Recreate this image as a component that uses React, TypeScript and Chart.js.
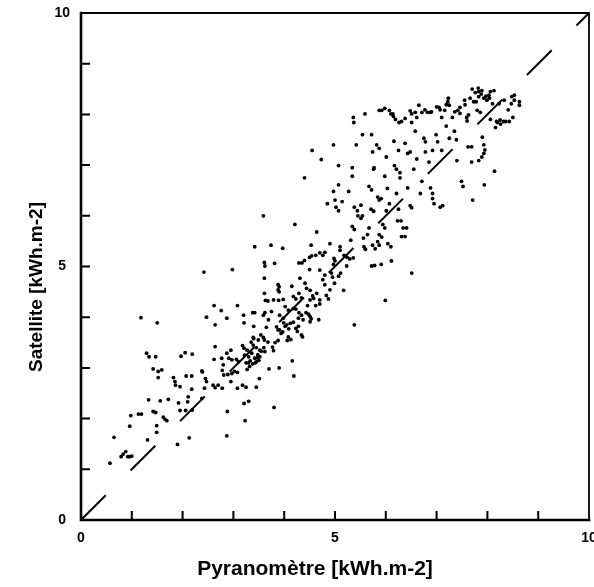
import React, { useEffect, useRef } from "react";
import { Chart, registerables } from "chart.js";

Chart.register(...registerables);

// Scatter values: [pyranometre, satellite] in kWh.m-2
const pointsLow: [number, number][] = [
  [1.18, 3.99], [1.5, 3.89], [1.29, 3.29], [1.34, 3.22], [1.47, 3.22], [1.42, 2.98], [1.52, 2.93], [1.59, 2.96],
  [1.52, 2.81], [1.82, 2.81], [1.85, 2.73], [1.86, 2.66], [1.95, 2.63], [1.97, 3.23], [2.05, 3.3], [2.19, 3.27],
  [2.07, 2.84], [2.18, 2.84], [2.38, 2.94], [2.39, 2.92], [2.45, 2.79], [2.47, 2.73], [2.43, 2.6], [2.18, 2.58],
  [2.11, 2.43], [1.33, 2.37], [1.56, 2.35], [1.72, 2.38], [1.92, 2.31], [2.1, 2.33], [2.38, 2.4], [1.95, 2.16],
  [2.06, 2.16], [2.19, 2.17], [1.42, 2.14], [1.47, 2.12], [1.13, 2.09], [1.19, 2.09], [0.98, 2.06], [1.62, 2.03],
  [1.65, 1.99], [1.69, 1.96], [1.49, 1.86], [0.96, 1.85], [1.49, 1.73], [0.65, 1.63], [1.31, 1.58], [2.13, 1.62],
  [1.9, 1.49], [0.79, 1.25], [0.83, 1.3], [0.88, 1.35], [0.92, 1.25], [0.96, 1.25], [1.0, 1.26], [0.57, 1.12],
  [2.87, 1.66], [2.47, 4.0], [2.62, 4.23], [2.76, 4.13], [2.87, 3.98], [2.64, 3.85], [3.08, 4.23], [2.64, 3.42],
  [2.62, 3.17], [2.77, 3.19], [2.8, 3.06], [2.78, 2.95], [2.81, 2.86], [2.87, 3.29], [2.95, 3.35], [2.91, 3.19],
  [2.97, 3.16], [2.89, 2.87], [2.97, 2.89], [3.02, 2.93], [3.08, 2.91], [2.95, 2.73], [2.6, 2.66], [2.64, 2.61],
  [2.7, 2.66], [2.78, 2.6], [2.88, 2.14], [3.08, 2.6], [3.06, 3.17], [3.1, 3.12], [2.42, 4.89], [2.98, 4.94],
];

const pointsMid: [number, number][] = [
  [3.18, 2.66], [3.25, 2.62], [3.18, 3.44], [3.21, 3.39], [3.2, 4.04], [3.21, 3.89], [3.21, 2.3], [3.3, 2.34],
  [3.23, 1.96], [3.25, 3.1], [3.3, 3.1], [3.27, 2.97], [3.32, 3.03], [3.38, 4.09], [3.42, 4.09], [3.4, 3.82],
  [3.35, 3.51], [3.4, 3.58], [3.42, 5.39], [3.43, 3.1], [3.47, 3.2], [3.5, 3.15], [3.52, 3.22], [3.45, 2.62],
  [3.51, 2.79], [3.54, 3.65], [3.59, 6.0], [3.61, 5.08], [3.62, 5.01], [3.61, 4.77], [3.61, 4.47], [3.63, 4.33],
  [3.68, 4.32], [3.62, 4.09], [3.69, 3.95], [3.65, 3.8], [3.61, 3.55], [3.68, 3.51], [3.62, 3.32], [3.7, 2.98],
  [3.74, 5.42], [3.77, 3.41], [3.79, 3.34], [3.8, 2.22], [3.81, 5.06], [3.82, 3.5], [3.88, 3.54], [3.9, 4.6],
  [3.9, 4.5], [3.89, 4.33], [3.88, 3.75], [3.94, 3.68], [3.9, 3.0], [3.97, 5.36], [3.99, 3.89], [4.02, 4.21],
  [4.02, 3.82], [4.09, 3.77], [4.06, 3.54], [4.13, 3.56], [4.16, 3.14], [4.19, 2.84], [4.21, 5.83], [4.23, 4.36],
  [4.23, 4.16], [4.29, 4.09], [4.23, 3.78], [4.28, 3.82], [4.26, 3.72], [4.29, 5.07], [4.35, 5.07], [4.29, 4.47],
  [4.31, 4.77], [4.36, 3.61], [4.37, 3.95], [4.4, 6.75], [4.43, 4.09], [4.48, 4.06], [4.46, 4.23], [4.5, 5.18],
  [4.5, 4.94], [4.51, 4.53], [4.53, 5.42], [4.53, 3.97], [4.55, 7.29], [4.58, 4.37], [4.62, 4.23], [4.62, 5.22],
  [4.64, 5.68], [4.64, 4.47], [4.68, 3.95], [4.7, 4.26], [4.73, 7.11], [4.76, 5.22], [4.76, 4.74], [4.8, 4.64],
  [4.8, 5.28], [4.83, 4.43], [4.87, 4.36], [4.85, 6.24], [4.9, 5.45], [4.93, 4.87], [4.97, 5.04], [5.0, 5.11],
  [4.97, 7.4], [4.97, 6.48], [5.0, 6.31], [5.02, 6.17], [5.07, 6.1], [5.07, 6.99], [5.07, 6.61], [5.1, 5.39],
  [5.1, 5.32], [5.11, 4.87], [5.07, 4.81], [5.14, 6.28], [5.17, 4.53], [5.18, 5.22], [5.23, 5.01], [5.27, 6.48],
  [5.29, 5.15], [5.31, 5.52], [5.34, 6.95], [5.34, 6.78], [5.34, 5.79], [5.38, 5.73], [5.36, 7.94], [5.37, 7.84],
  [5.38, 6.17], [5.44, 6.1], [5.38, 3.85], [5.42, 7.4],
];

const pointsHigh: [number, number][] = [
  [5.45, 6.0], [5.51, 5.95], [5.54, 6.0], [5.51, 6.21], [5.54, 7.6], [5.56, 5.56], [5.57, 5.39], [5.6, 5.34],
  [5.59, 8.01], [5.64, 5.63], [5.67, 5.76], [5.67, 6.58], [5.72, 6.51], [5.71, 6.13], [5.76, 6.09], [5.72, 5.01],
  [5.78, 5.02], [5.72, 7.6], [5.74, 7.26], [5.74, 5.42], [5.79, 5.35], [5.76, 6.92], [5.77, 6.95], [5.82, 7.4],
  [5.87, 7.33], [5.84, 6.37], [5.87, 6.31], [5.91, 6.34], [5.84, 5.49], [5.87, 5.42], [5.87, 5.63], [5.92, 5.58],
  [5.87, 8.08], [5.92, 8.08], [5.91, 5.04], [5.94, 5.83], [5.98, 5.76], [5.98, 6.78], [5.99, 4.33], [6.01, 7.16],
  [6.01, 6.1], [6.03, 6.54], [6.04, 5.45], [6.1, 5.39], [6.07, 8.08], [6.07, 6.24], [6.11, 5.11], [6.14, 8.01],
  [6.16, 7.47], [6.17, 6.99], [6.21, 6.92], [6.19, 7.9], [6.21, 6.44], [6.23, 5.9], [6.25, 6.13], [6.25, 7.29],
  [6.26, 7.84], [6.28, 6.85], [6.28, 6.75], [6.3, 5.9], [6.34, 5.76], [6.31, 5.59], [6.38, 5.59], [6.38, 7.43],
  [6.41, 5.76], [6.43, 7.23], [6.48, 7.26], [6.43, 6.55], [6.48, 6.2], [6.51, 6.16], [6.51, 8.01], [6.51, 7.84],
  [6.51, 4.87], [6.55, 6.92], [6.58, 7.67], [6.58, 8.04], [6.61, 7.94], [6.61, 7.12], [6.65, 8.18], [6.68, 6.44],
  [6.71, 6.68], [6.75, 7.53], [6.78, 7.46], [6.78, 7.26], [6.82, 8.04], [6.88, 8.04], [6.85, 7.06], [6.88, 6.55],
  [6.92, 6.44], [6.92, 6.34], [6.92, 7.29], [6.95, 6.24], [6.99, 7.6], [7.02, 7.46], [7.05, 8.14], [7.07, 6.17],
  [7.12, 6.2], [7.1, 7.29], [7.1, 7.94], [7.16, 8.08], [7.19, 7.77], [7.22, 8.25], [7.25, 8.18], [7.25, 7.53],
  [7.31, 7.94], [7.35, 7.67], [7.39, 7.5], [7.4, 7.09], [7.42, 8.08], [7.46, 8.14], [7.49, 6.68], [7.52, 6.58],
  [7.55, 8.28], [7.59, 7.94], [7.6, 7.87], [7.62, 7.36], [7.69, 7.36], [7.66, 8.32], [7.69, 7.06], [7.71, 6.31],
  [7.73, 8.25], [7.78, 8.25], [7.76, 8.43], [7.83, 8.45], [7.89, 8.47], [7.83, 8.35], [7.93, 8.32], [7.8, 8.08],
  [7.83, 7.09], [7.89, 7.16], [7.86, 8.04], [7.93, 7.4], [7.93, 7.23], [7.94, 6.61], [7.99, 8.28], [8.04, 8.32],
  [8.03, 8.38], [8.06, 7.9], [8.1, 8.21], [8.13, 8.47], [8.14, 6.88], [8.16, 7.74], [8.2, 7.84], [8.23, 8.21],
  [8.26, 7.81], [8.32, 7.86], [8.36, 7.86], [8.33, 8.28], [8.43, 7.86], [8.47, 8.21], [8.5, 7.94], [8.53, 8.38],
  [8.53, 8.28], [8.63, 8.25], [8.63, 8.18],
];

const pointsDense: [number, number][] = [
  [5.98, 8.12], [6.1, 8.01], [6.15, 7.96], [6.31, 7.86], [6.38, 7.92], [6.48, 8.07], [6.71, 8.04], [6.77, 8.09],
  [6.9, 8.05], [7.0, 8.15], [7.07, 8.09], [7.19, 8.19], [7.23, 8.32], [7.36, 8.05], [7.46, 8.02], [7.56, 8.19],
  [7.63, 7.99], [7.7, 8.5], [7.82, 8.52], [7.88, 8.4], [7.97, 8.36], [8.06, 8.45], [8.18, 7.86], [8.25, 7.89],
  [8.41, 8.09], [8.48, 8.35], [7.9, 7.55], [7.95, 7.3],
  [4.4, 5.12], [4.54, 5.21], [4.7, 5.27], [4.98, 5.16], [5.24, 5.18], [5.36, 5.17], [4.7, 4.93], [4.8, 4.83],
  [4.95, 4.79], [4.99, 4.67], [4.9, 4.54], [3.79, 4.34], [3.98, 4.35], [3.88, 4.54], [3.88, 4.64], [4.15, 4.61],
  [4.18, 4.41], [4.34, 4.38], [4.41, 4.67], [4.44, 4.57], [4.51, 4.34], [4.56, 4.42], [4.7, 4.34], [3.59, 4.04],
  [3.75, 4.11], [3.91, 4.04], [3.98, 3.98], [4.08, 4.14], [4.18, 4.17], [4.28, 3.98], [4.34, 4.04], [4.51, 4.01],
  [4.51, 3.91], [3.85, 3.81], [3.91, 3.75], [3.97, 3.71], [4.05, 3.85], [4.12, 3.88], [4.18, 3.9], [4.08, 3.61],
  [4.34, 3.65], [3.39, 3.6], [3.49, 3.55], [3.59, 3.6], [3.39, 3.45], [3.45, 3.4], [3.52, 3.35],
  [3.3, 3.22], [3.36, 3.29], [3.42, 3.19], [3.45, 3.12], [3.38, 3.08], [3.33, 3.14], [3.48, 3.26], [3.55, 3.33],
  [3.6, 3.4], [3.27, 3.35], [3.22, 3.25],
];

// 1:1 reference line end values
const diagonal: number[] = [0, 10];

// axis ticks and labels
const tickValues: number[] = [0, 1, 2, 3, 4, 5, 6, 7, 8, 9, 10];
const labelledTicks: number[] = [0, 5, 10];
const xTitle = "Pyranomètre [kWh.m-2]";
const yTitle = "Satellite [kWh.m-2]";

const FONT = '"Liberation Sans", Arial, Helvetica, sans-serif';

const framePlugin = {
  id: "frameAndTitles",
  afterDatasetsDraw(chart: any) {
    const { ctx, chartArea } = chart;
    const { left, right, top, bottom } = chartArea;
    const xs = chart.scales.x;
    const ys = chart.scales.y;
    ctx.save();
    ctx.strokeStyle = "#000";
    ctx.lineCap = "square";
    ctx.lineWidth = 2.6;
    ctx.beginPath();
    ctx.moveTo(left, top);
    ctx.lineTo(left, bottom);
    ctx.lineTo(right, bottom);
    ctx.stroke();
    ctx.lineWidth = 1.8;
    ctx.beginPath();
    ctx.moveTo(left, top);
    ctx.lineTo(right, top);
    ctx.lineTo(right, bottom);
    ctx.stroke();
    ctx.lineCap = "butt";
    ctx.lineWidth = 2;
    ctx.beginPath();
    for (const v of tickValues) {
      if (v === 0 || v === 10) continue;
      const px = xs.getPixelForValue(v);
      ctx.moveTo(px, bottom);
      ctx.lineTo(px, bottom - 9);
      const py = ys.getPixelForValue(v);
      ctx.moveTo(left, py);
      ctx.lineTo(left + 9, py);
    }
    ctx.stroke();
    ctx.fillStyle = "#000";
    ctx.textAlign = "center";
    ctx.textBaseline = "alphabetic";
    ctx.font = `bold 21px ${FONT}`;
    ctx.fillText(xTitle, 315, 575);
    ctx.translate(42, 287);
    ctx.rotate(-Math.PI / 2);
    ctx.font = `bold 19px ${FONT}`;
    ctx.fillText(yTitle, 0, 0);
    ctx.restore();
  },
};

export default function App() {
  const canvasRef = useRef<HTMLCanvasElement | null>(null);

  useEffect(() => {
    const canvas = canvasRef.current;
    if (!canvas) return;
    const all = [...pointsLow, ...pointsMid, ...pointsHigh, ...pointsDense];
    const scatterData = all.map(([x, y]) => ({ x, y }));
    const lineData = diagonal.map((v) => ({ x: v, y: v }));
    const tickLabel = (v: any) => (labelledTicks.includes(Number(v)) ? String(v) : "");

    const chart = new Chart(canvas, {
      type: "scatter",
      data: {
        datasets: [
          {
            label: "1:1",
            data: lineData,
            showLine: true,
            borderColor: "#000",
            borderWidth: 2,
            borderDash: [35, 35],
            pointRadius: 0,
            fill: false,
          } as any,
          {
            label: "Satellite vs Pyranomètre",
            data: scatterData,
            pointRadius: 1.9,
            pointBackgroundColor: "#000",
            pointBorderWidth: 0,
            backgroundColor: "#000",
            borderColor: "#000",
          },
        ],
      },
      options: {
        animation: false,
        responsive: false,
        events: [],
        layout: { padding: { top: 13, right: 5, left: 0, bottom: 0 } },
        plugins: {
          legend: { display: false },
          tooltip: { enabled: false },
        },
        scales: {
          x: {
            type: "linear",
            min: 0,
            max: 10,
            grid: { display: false, drawTicks: false },
            border: { display: false },
            ticks: {
              stepSize: 1,
              autoSkip: false,
              maxRotation: 0,
              padding: 10,
              color: "#000",
              font: { family: FONT, size: 14, weight: "bold" },
              callback: tickLabel,
            },
            afterFit: (scale: any) => {
              scale.height = 67;
              scale.paddingLeft = 0;
              scale.paddingRight = 0;
            },
          },
          y: {
            type: "linear",
            min: 0,
            max: 10,
            grid: { display: false, drawTicks: false },
            border: { display: false },
            ticks: {
              stepSize: 1,
              autoSkip: false,
              padding: 11,
              crossAlign: "center",
              color: "#000",
              font: { family: FONT, size: 14, weight: "bold" },
              callback: tickLabel,
            },
            afterFit: (scale: any) => {
              scale.width = 81;
              scale.paddingTop = 0;
              scale.paddingBottom = 0;
            },
          },
        },
      } as any,
      plugins: [framePlugin],
    });
    return () => chart.destroy();
  }, []);

  return (
    <div style={{ position: "fixed", left: 0, top: 0, width: 594, height: 587, background: "#fff" }}>
      <canvas ref={canvasRef} width={594} height={587} style={{ display: "block", width: 594, height: 587 }} />
    </div>
  );
}
